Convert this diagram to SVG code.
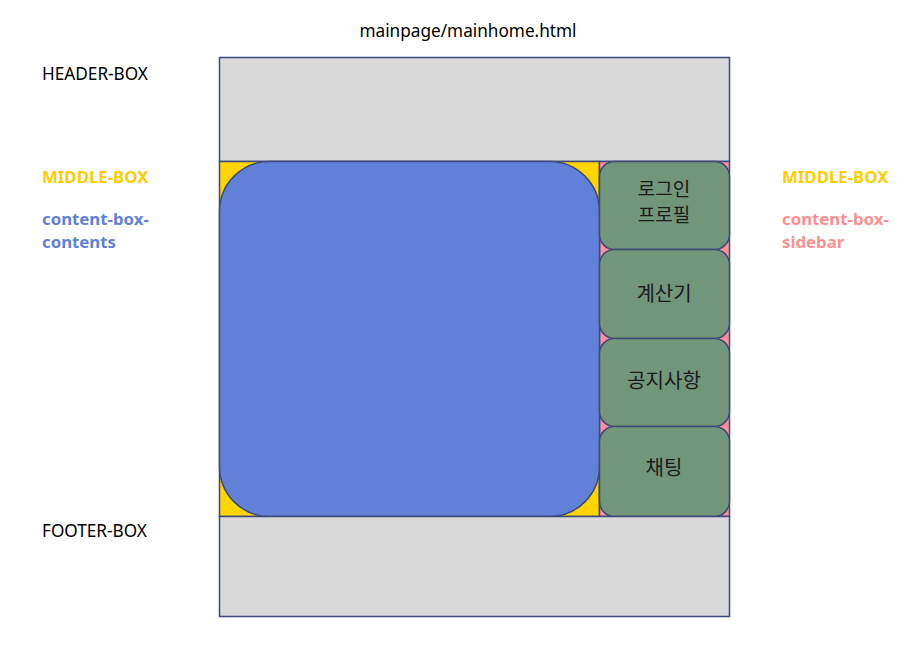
<svg xmlns="http://www.w3.org/2000/svg" width="905" height="655" viewBox="0 0 905 655">
<style>
.box{stroke:#3B4A78;stroke-width:1.5}
.gray{fill:#D9D9D9}
.lbl{font-family:"Noto Sans","Noto Sans CJK KR",sans-serif;font-size:17.2px;fill:#000}
.b{font-weight:bold;font-size:16.8px}
.ko{font-family:"Noto Sans CJK KR","Noto Sans",sans-serif;font-size:20px;fill:#1a1a1a;text-anchor:middle}
.ko2{font-size:19px}
.side{fill:#719679}
</style>
<rect width="905" height="655" fill="#fff"/>
<g id="title"><text class="lbl" x="468" y="37" text-anchor="middle">mainpage/mainhome.html</text></g>
<g id="header-box">
<rect class="box gray" x="219.5" y="57.5" width="510" height="104"/>
</g>
<g id="middle-box">
<rect class="box" x="219.5" y="161.5" width="380" height="355" fill="#FFD500"/>
</g>
<g id="sidebar">
<rect class="box" x="599.5" y="161.5" width="130" height="355" fill="#FF8F9A"/>
</g>
<g id="content-box-contents">
<rect class="box" x="219.5" y="161.5" width="380" height="355" rx="50" ry="50" fill="#6181D8"/>
</g>
<g id="login">
<rect class="box side" x="599.5" y="161.5" width="130" height="88" rx="15" ry="15"/>
<text class="ko ko2" x="664" y="196">로그인</text>
<text class="ko ko2" x="664" y="222">프로필</text>
</g>
<g id="calc">
<rect class="box side" x="599.5" y="249.5" width="130" height="89" rx="15" ry="15"/>
<text class="ko" x="664" y="301">계산기</text>
</g>
<g id="notice">
<rect class="box side" x="599.5" y="338.5" width="130" height="88" rx="15" ry="15"/>
<text class="ko" x="664" y="388">공지사항</text>
</g>
<g id="chat">
<rect class="box side" x="599.5" y="426.5" width="130" height="90" rx="15" ry="15"/>
<text class="ko" x="664" y="475">채팅</text>
</g>
<g id="footer-box">
<rect class="box gray" x="219.5" y="516.5" width="510" height="100"/>
</g>
<g id="labels">
<text class="lbl" x="42" y="80">HEADER-BOX</text>
<text class="lbl b" x="42" y="183" style="fill:#FFCC00">MIDDLE-BOX</text>
<text class="lbl b" x="42" y="225" style="fill:#6181D8">content-box-</text>
<text class="lbl b" x="42" y="248" style="fill:#6181D8">contents</text>
<text class="lbl b" x="782" y="183" style="fill:#FFCC00">MIDDLE-BOX</text>
<text class="lbl b" x="782" y="225" style="fill:#FF8F8F">content-box-</text>
<text class="lbl b" x="782" y="248" style="fill:#FF8F8F">sidebar</text>
<text class="lbl" x="42" y="537">FOOTER-BOX</text>
</g>
</svg>
